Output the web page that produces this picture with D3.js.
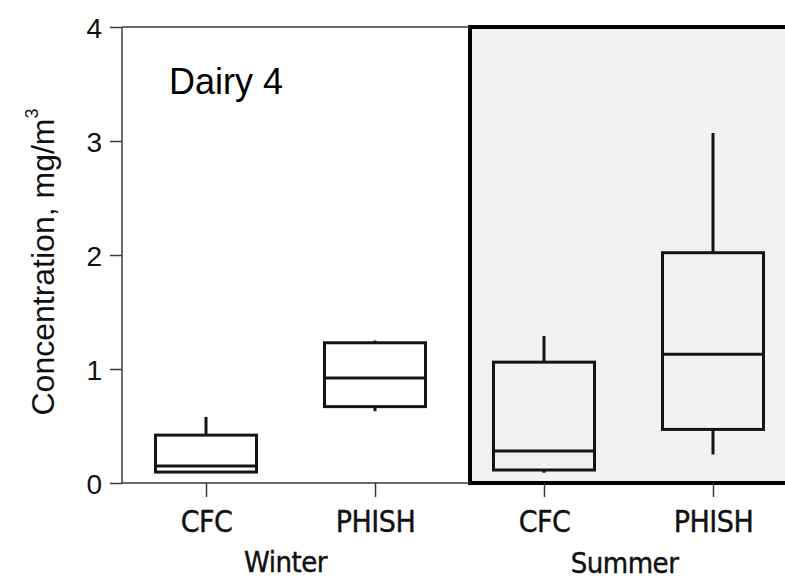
<!DOCTYPE html>
<html>
<head>
<meta charset="utf-8">
<script src="https://cdn.jsdelivr.net/npm/d3@7"></script>
<style>
  body { margin: 0; background: #fff; }
  svg { display: block; }
</style>
</head>
<body>
<svg id="chart" width="785" height="581"></svg>
<script>
    "use strict";
    var categories = ["Winter CFC", "Winter PHISH", "Summer CFC", "Summer PHISH"];
    var tickLabels = ["CFC", "PHISH", "CFC", "PHISH"];
    var seasons = ["Winter", "Summer"];
    var yTicks = [0, 1, 2, 3, 4];
    // five-number summaries, mg/m3
    var whiskerLow = [0.09, 0.63, 0.09, 0.25];
    var q1 = [0.096, 0.67, 0.114, 0.47];
    var median = [0.15, 0.92, 0.28, 1.13];
    var q3 = [0.42, 1.23, 1.06, 2.02];
    var whiskerHigh = [0.58, 1.25, 1.29, 3.07];

    var svg = d3.select("#chart");
    var x = d3.scalePoint().domain(categories).range([206, 713]);
    var y = d3.scaleLinear().domain([0, 4]).range([483, 27]);
    var boxW = 101;
    var ink = "#151515";
    var axisInk = "#3a3a3a";

    var plotLeft = x(categories[0]) - 84;
    var panelLeft = x("Summer CFC") - 74;

    // summer panel
    svg.append("rect")
        .attr("x", panelLeft).attr("y", y(4))
        .attr("width", 800 - panelLeft).attr("height", y(0) - y(4))
        .attr("fill", "#f2f2f2")
        .attr("stroke", "#000").attr("stroke-width", 4);

    // y axis
    var yAxis = d3.axisLeft(y).tickValues(yTicks).tickSize(12).tickPadding(8)
        .tickFormat(d3.format("d"));
    var gy = svg.append("g").attr("transform", "translate(" + plotLeft + ",0)").call(yAxis);
    gy.select(".domain").remove();
    gy.selectAll(".tick line").attr("stroke", axisInk).attr("stroke-width", 1.5);
    gy.selectAll(".tick text").attr("fill", "#111").attr("dy", "0.36em")
        .style("font-family", "Arial, 'Liberation Sans', sans-serif").style("font-size", "28px");
    svg.append("line").attr("x1", plotLeft).attr("x2", plotLeft)
        .attr("y1", y(4)).attr("y2", y(0))
        .attr("stroke", axisInk).attr("stroke-width", 1.5);
    svg.append("line").attr("x1", plotLeft).attr("x2", panelLeft)
        .attr("y1", y(4)).attr("y2", y(4))
        .attr("stroke", axisInk).attr("stroke-width", 1.5);
    svg.append("line").attr("x1", plotLeft).attr("x2", panelLeft)
        .attr("y1", y(0)).attr("y2", y(0))
        .attr("stroke", axisInk).attr("stroke-width", 1.5);

    // x axis
    var xAxis = d3.axisBottom(x).tickSize(14).tickPadding(14)
        .tickFormat(function (d, i) { return tickLabels[i]; });
    var gx = svg.append("g").attr("transform", "translate(0," + y(0) + ")").call(xAxis);
    gx.select(".domain").remove();
    gx.selectAll(".tick line").attr("stroke", axisInk).attr("stroke-width", 1.5);
    gx.selectAll(".tick text").attr("fill", "#111").attr("stroke", "#111").attr("stroke-width", 0.4)
        .style("font-family", "'DejaVu Sans Condensed', 'DejaVu Sans', sans-serif")
        .style("font-size", "30px").style("letter-spacing", "-0.5px");

    var seasonX = [(x(categories[0]) + x(categories[1])) / 2 - 5, (x(categories[2]) + x(categories[3])) / 2 - 4];
    var seasonY = [572, 573];
    svg.selectAll(".season").data(seasons).enter().append("text")
        .attr("class", "season")
        .attr("x", function (d, i) { return seasonX[i]; })
        .attr("y", function (d, i) { return seasonY[i]; })
        .attr("text-anchor", "middle").attr("fill", "#111").attr("stroke", "#111").attr("stroke-width", 0.4)
        .style("font-family", "'DejaVu Sans Condensed', 'DejaVu Sans', sans-serif")
        .style("font-size", "29px").style("letter-spacing", "-0.5px")
        .text(function (d) { return d; });

    // y title
    var title = svg.append("text")
        .attr("transform", "translate(54,262) rotate(-90)")
        .attr("text-anchor", "middle").attr("fill", "#111")
        .style("font-family", "Arial, 'Liberation Sans', sans-serif").style("font-size", "32px");
    title.append("tspan").text("Concentration, mg/m");
    title.append("tspan").attr("dy", -16).style("font-size", "18px").text("3");

    svg.append("text").attr("x", 169).attr("y", 94)
        .attr("fill", "#000")
        .style("font-family", "Arial, 'Liberation Sans', sans-serif").style("font-size", "36px")
        .text("Dairy 4");

    // boxes
    var boxes = svg.selectAll(".box").data(categories).enter().append("g").attr("class", "box");
    boxes.append("line")
        .attr("x1", function (d) { return x(d); }).attr("x2", function (d) { return x(d); })
        .attr("y1", function (d, i) { return y(whiskerHigh[i]); })
        .attr("y2", function (d, i) { return y(q3[i]); })
        .attr("stroke", ink).attr("stroke-width", 3);
    boxes.append("line")
        .attr("x1", function (d) { return x(d); }).attr("x2", function (d) { return x(d); })
        .attr("y1", function (d, i) { return y(q1[i]); })
        .attr("y2", function (d, i) { return y(whiskerLow[i]); })
        .attr("stroke", ink).attr("stroke-width", 3);
    boxes.append("rect")
        .attr("x", function (d) { return x(d) - boxW / 2; })
        .attr("y", function (d, i) { return y(q3[i]); })
        .attr("width", boxW)
        .attr("height", function (d, i) { return y(q1[i]) - y(q3[i]); })
        .attr("fill", "none").attr("stroke", ink).attr("stroke-width", 3);
    boxes.append("line")
        .attr("x1", function (d) { return x(d) - boxW / 2; })
        .attr("x2", function (d) { return x(d) + boxW / 2; })
        .attr("y1", function (d, i) { return y(median[i]); })
        .attr("y2", function (d, i) { return y(median[i]); })
        .attr("stroke", ink).attr("stroke-width", 3);
</script>
</body>
</html>
